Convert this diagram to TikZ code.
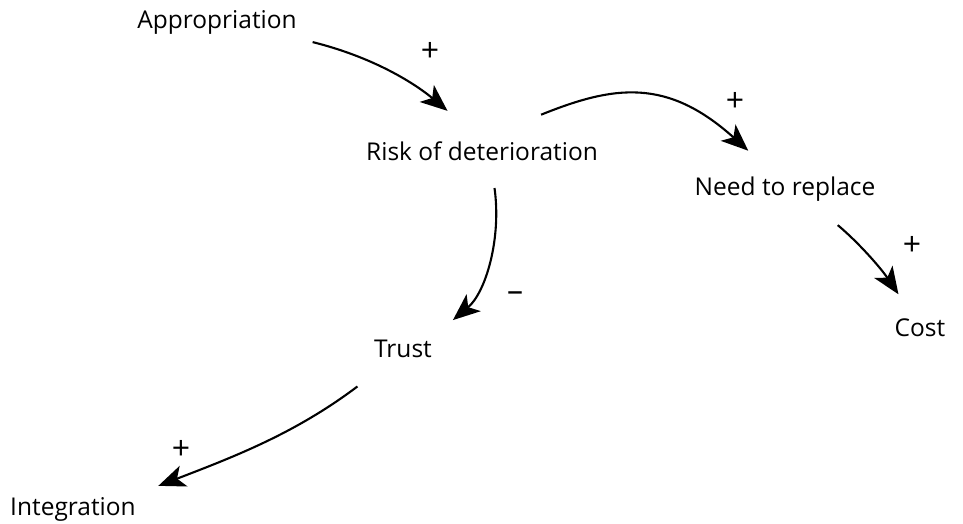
\documentclass[tikz,border=0pt]{standalone}
\usepackage{fontspec}
\setmainfont{Open Sans}
\usetikzlibrary{arrows.meta}
\newcommand{\factor}{\node[factor]}
\newcommand{\polarity}{\node[polarity]}

\begin{document}
\begin{tikzpicture}[x=1pt,y=1pt,
    factor/.style={inner sep=4pt, text height=16pt, text depth=6pt, font=\fontsize{24.5}{29}\selectfont},
    polarity/.style={inner sep=0pt, font=\fontsize{32}{36}\selectfont},
    link/.style={line width=2.1pt, -{Stealth[length=27pt,width=22pt,inset=7pt]}}]
    \useasboundingbox (0,0) rectangle (963,-524);
    \factor (appr)  at (217,-24)  {Appropriation};
    \factor (risk)  at (482,-155) {Risk of deterioration};
    \factor (need)  at (785,-190) {Need to replace};
    \factor (cost)  at (920,-331) {Cost};
    \factor (trust) at (403,-352) {Trust};
    \factor (integ) at (73,-510)  {Integration};
    % causal links
    \draw[link, shorten <=12pt, shorten >=45pt] ([xshift=84pt]appr.south) to[out=-14,in=140] (risk.north);
    \draw[link, shorten <=67pt, shorten >=36pt] ([xshift=-3pt]risk.north) to[out=22,in=138,looseness=1.25] ([xshift=-10pt]need.north);
    \draw[link, shorten <=18pt, shorten >=26pt] ([xshift=10pt]risk.south) to[out=-82,in=40] ([xshift=30pt]trust.north);
    \draw[link, shorten <=31pt, shorten >=26pt] ([xshift=29pt]need.south) to[out=-40,in=124] ([xshift=-7pt]cost.north);
    \draw[link, shorten <=32pt, shorten >=25pt] ([xshift=-20pt]trust.south) to[out=217,in=21] ([xshift=62pt]integ.north);
    % polarities
    \polarity (s1) at (430,-52)  {+};
    \polarity (s2) at (735,-102) {+};
    \polarity (s3) at (515,-297) {\textendash};
    \polarity (s4) at (912,-246) {+};
    \polarity (s5) at (181,-450) {+};
\end{tikzpicture}
\end{document}
